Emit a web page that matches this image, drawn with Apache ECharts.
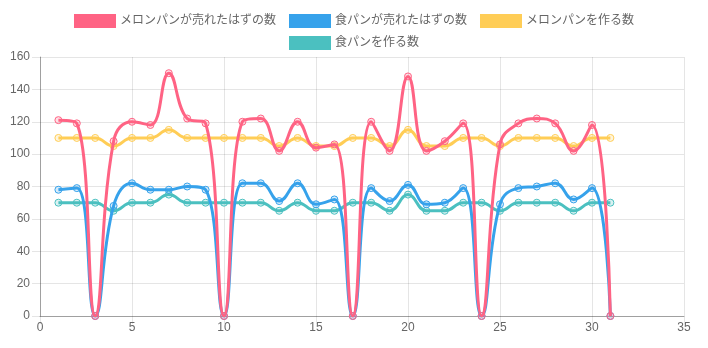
<!DOCTYPE html>
<html><head><meta charset="utf-8">
<script src="https://cdn.jsdelivr.net/npm/echarts@6/dist/echarts.min.js"></script>
<style>html,body{margin:0;padding:0;background:#fff}#c{width:708px;height:348px}</style>
</head><body><div id="c"></div>
<script>
const days = [1,2,3,4,5,6,7,8,9,10,11,12,13,14,15,16,17,18,19,20,21,22,23,24,25,26,27,28,29,30,31];
const melonSold = [121,119,0,108,120,118,150,122,119,0,120,122,102,120,104,106,0,120,102,148,102,108,119,0,106,119,122,119,102,118,0];
const breadSold = [78,79,0,68,82,78,78,80,78,0,82,82,71,82,69,72,0,79,71,81,69,70,79,0,69,79,80,82,72,79,0];
const melonMade = [110,110,110,105,110,110,115,110,110,110,110,110,105,110,105,105,110,110,105,115,105,105,110,110,105,110,110,110,105,110,110];
const breadMade = [70,70,70,65,70,70,75,70,70,70,70,70,65,70,65,65,70,70,65,75,65,65,70,70,65,70,70,70,65,70,70];
const names = ['メロンパンが売れたはずの数','食パンが売れたはずの数','メロンパンを作る数','食パンを作る数'];
const colors = ['rgb(255,99,132)','rgb(54,162,235)','rgb(255,205,86)','rgb(75,192,192)'];
const fills = ['rgba(255,99,132,0.2)','rgba(54,162,235,0.2)','rgba(255,205,86,0.2)','rgba(75,192,192,0.2)'];
const yTicks = {min:0,max:160,interval:20};
const xTicks = {min:0,max:35,interval:5};
const font = "'Liberation Sans','Noto Sans CJK JP',sans-serif";

const chart = echarts.init(document.getElementById('c'));
const allData = [melonSold, breadSold, melonMade, breadMade];
const series = allData.map((vals,i)=>({
  name: names[i], type:'line', smooth:0.45,
  data: days.map((d,j)=>[d, vals[j]]),
  symbol:'circle', symbolSize:7, z: 10-i,
  lineStyle:{color:colors[i], width:3},
  itemStyle:{color:fills[i], borderColor:colors[i], borderWidth:1},
  emphasis:{disabled:true}
}));
const legendCommon = {left:'center', itemWidth:40, itemHeight:12, itemGap:13, icon:'rect',
  textStyle:{fontFamily:font, fontSize:12, color:'#666'}};
chart.setOption({
  animation:false,
  color: colors,
  legend:[
    Object.assign({top:9, data:names.slice(0,3).map((n,i)=>({name:n, itemStyle:{color:colors[i]}}))}, legendCommon),
    Object.assign({top:31, data:[{name:names[3], itemStyle:{color:colors[3]}}]}, legendCommon)
  ],
  grid:{left:40, right:24, top:57, bottom:32, containLabel:false},
  xAxis:{type:'value', min:xTicks.min, max:xTicks.max, interval:xTicks.interval,
    axisLine:{show:true, lineStyle:{color:'rgba(0,0,0,0.3)'}},
    axisTick:{show:true, length:8, lineStyle:{color:'rgba(0,0,0,0.1)'}},
    splitLine:{show:true, lineStyle:{color:'rgba(0,0,0,0.1)'}},
    axisLabel:{color:'#666', fontFamily:font, fontSize:12, margin:6}},
  yAxis:{type:'value', min:yTicks.min, max:yTicks.max, interval:yTicks.interval,
    axisLine:{show:true, lineStyle:{color:'rgba(0,0,0,0.3)'}},
    axisTick:{show:true, length:8, lineStyle:{color:'rgba(0,0,0,0.1)'}},
    splitLine:{show:true, lineStyle:{color:'rgba(0,0,0,0.1)'}},
    axisLabel:{color:'#666', fontFamily:font, fontSize:12, margin:10}},
  series: series
});
</script></body></html>
